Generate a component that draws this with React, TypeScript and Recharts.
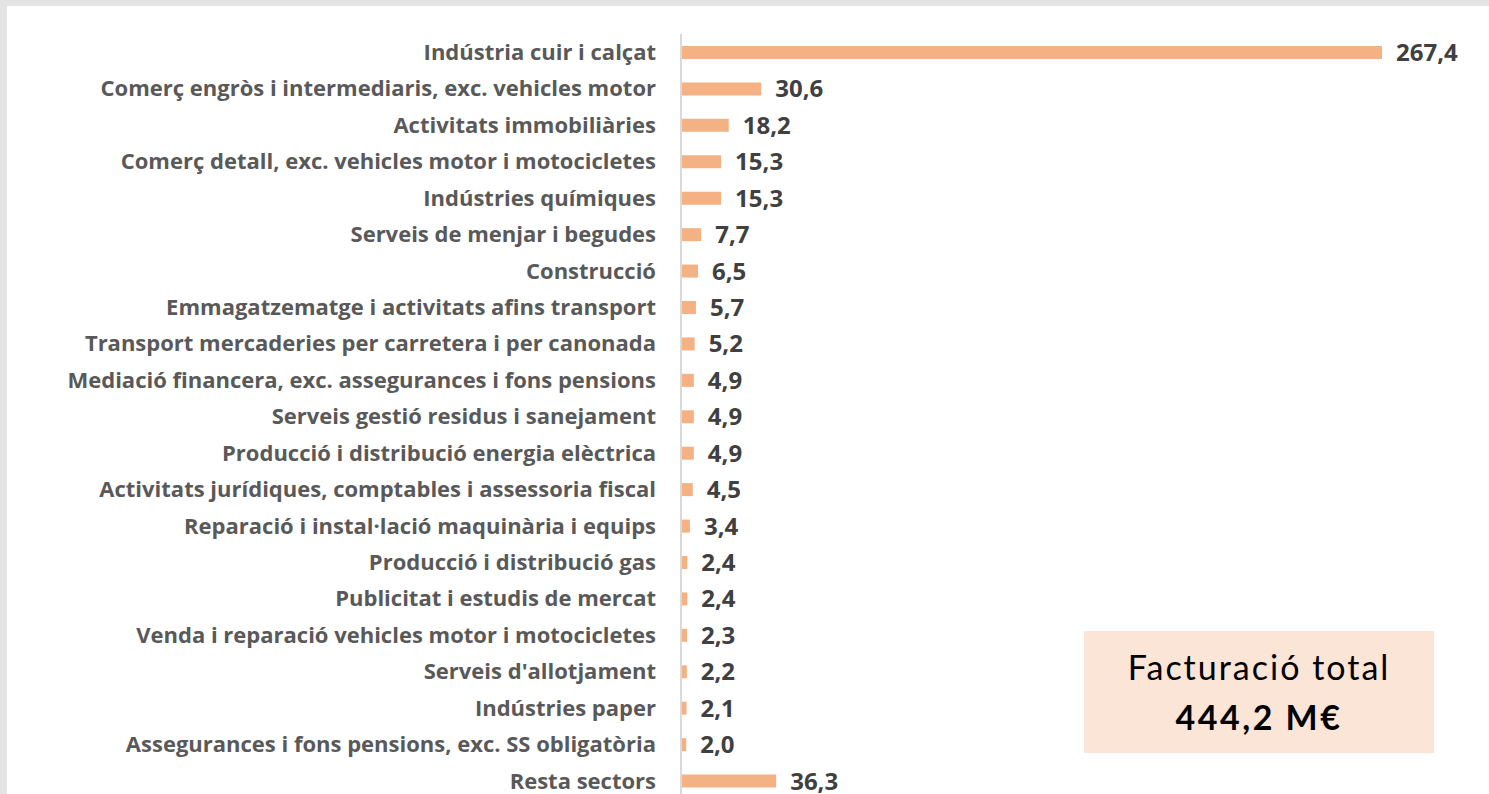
import React from "react";
import { BarChart, Bar, XAxis, YAxis, LabelList } from "recharts";

const categories = [
  "Indústria cuir i calçat",
  "Comerç engròs i intermediaris, exc. vehicles motor",
  "Activitats immobiliàries",
  "Comerç detall, exc. vehicles motor i motocicletes",
  "Indústries químiques",
  "Serveis de menjar i begudes",
  "Construcció",
  "Emmagatzematge i activitats afins transport",
  "Transport mercaderies per carretera i per canonada",
  "Mediació financera, exc. assegurances i fons pensions",
  "Serveis gestió residus i sanejament",
  "Producció i distribució energia elèctrica",
  "Activitats jurídiques, comptables i assessoria fiscal",
  "Reparació i instal·lació maquinària i equips",
  "Producció i distribució gas ",
  "Publicitat i estudis de mercat",
  "Venda i reparació vehicles motor i motocicletes",
  "Serveis d'allotjament",
  "Indústries paper",
  "Assegurances i fons pensions, exc. SS obligatòria",
  "Resta sectors",
];

const values = [
  267.4, 30.6, 18.2, 15.3, 15.3, 7.7, 6.5, 5.7, 5.2, 4.9, 4.9, 4.9, 4.5, 3.4,
  2.4, 2.4, 2.3, 2.2, 2.1, 2.0, 36.3,
];

const totalLabel = "Facturació total";
const totalValue = "444,2 M€";

const data = categories.map((name, i) => ({ name, value: values[i] }));

const fmt = (v: any) => Number(v).toFixed(1).replace(".", ",");

const FONT = "Open Sans, sans-serif";

export default function App() {
  return (
    <div
      style={{
        position: "absolute",
        left: 0,
        top: 0,
        width: 1489,
        height: 794,
        background: "#e4e4e4",
        overflow: "hidden",
      }}
    >
      <div
        style={{
          position: "absolute",
          left: 7,
          top: 6,
          right: 0,
          bottom: 0,
          background: "#ffffff",
        }}
      />
      <div style={{ position: "absolute", left: 0, top: 0 }}>
        <BarChart
          width={1489}
          height={800}
          data={data}
          layout="vertical"
          margin={{ top: 34, right: 107, bottom: 1, left: 0 }}
          barCategoryGap={0}
        >
          <XAxis type="number" domain={[0, 267.4]} hide />
          <YAxis
            type="category"
            dataKey="name"
            width={681}
            interval={0}
            tickLine={false}
            tickSize={0}
            tickMargin={25}
            axisLine={{ stroke: "#d9d9d9", strokeWidth: 2 }}
            tick={{
              fill: "#595959",
              fontSize: 22,
              fontWeight: 700,
              fontFamily: FONT,
            }}
          />
          <Bar
            dataKey="value"
            fill="#F4B183"
            barSize={13}
            isAnimationActive={false}
          >
            <LabelList
              dataKey="value"
              position="right"
              offset={14}
              formatter={fmt}
              style={{
                fill: "#404040",
                fontSize: 24,
                fontWeight: 700,
                fontFamily: FONT,
              }}
            />
          </Bar>
        </BarChart>
      </div>
      <div
        style={{
          position: "absolute",
          left: 1084,
          top: 631,
          width: 350,
          height: 122,
          background: "#FBE5D6",
          display: "flex",
          flexDirection: "column",
          alignItems: "center",
          justifyContent: "center",
          fontFamily: "Lato, sans-serif",
          color: "#000",
        }}
      >
        <div style={{ fontSize: 34, lineHeight: "50px", letterSpacing: 2 }}>
          {totalLabel}
        </div>
        <div
          style={{
            fontSize: 34,
            fontWeight: 700,
            lineHeight: "50px",
            letterSpacing: 2.5,
          }}
        >
          {totalValue}
        </div>
      </div>
    </div>
  );
}
